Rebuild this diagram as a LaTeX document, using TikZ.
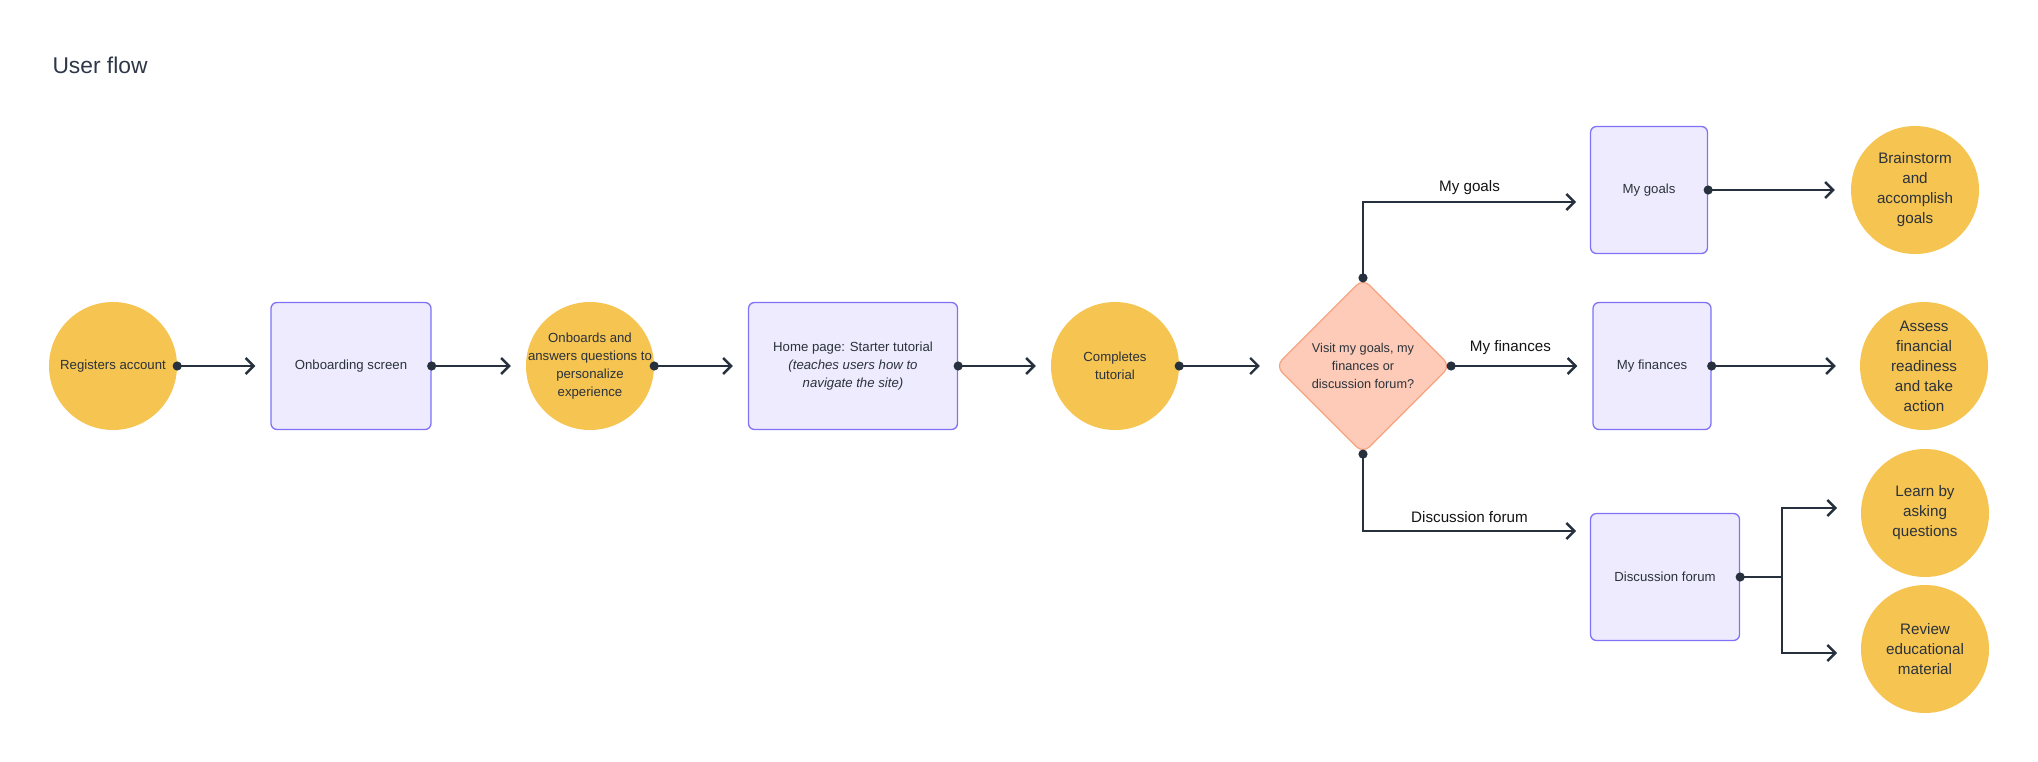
\documentclass[tikz,border=0pt]{standalone}
\usepackage{fontspec}
\setmainfont{Liberation Sans}
\usetikzlibrary{arrows.meta,shapes.geometric}

\definecolor{goldfill}{HTML}{F5C451}
\definecolor{boxfill}{HTML}{EDEBFD}
\definecolor{boxline}{HTML}{7F72F7}
\definecolor{decfill}{HTML}{FDCBB7}
\definecolor{decline}{HTML}{F6A27F}
\definecolor{flowline}{HTML}{26313D}
\definecolor{inktext}{HTML}{2B323B}
\definecolor{labelink}{HTML}{141414}
\definecolor{titleink}{HTML}{2D3748}

\tikzset{
  smalltext/.style={font=\fontsize{13.2}{18}\selectfont},
  bigtext/.style={font=\fontsize{15.2}{20}\selectfont},
  stepcircle/.style={circle, fill=goldfill, minimum size=128pt, inner sep=-20pt, align=center, text=inktext, smalltext},
  screenbox/.style={rectangle, rounded corners=6pt, draw=boxline, line width=1.3pt, fill=boxfill, minimum height=127pt, align=center, text=inktext, smalltext},
  choice/.style={diamond, aspect=1, draw=decline, line width=1.2pt, fill=decfill, minimum size=175pt, inner sep=0pt, rounded corners=9pt, align=center, text=inktext, font=\fontsize{12.7}{18}\selectfont},
  flow/.style={draw=flowline, line width=2.4pt, {Circle[length=9pt]}-{Straight Barb[length=8pt,width=16pt]}, shorten <=-4.5pt, shorten >=15pt},
  trunk/.style={draw=flowline, line width=2.4pt, {Circle[length=9pt]}-, shorten <=-4.5pt},
  fork/.style={draw=flowline, line width=2.4pt, -{Straight Barb[length=8pt,width=16pt]}},
  pathlabel/.style={bigtext, text=labelink},
  heading/.style={font=\fontsize{22.8}{27}\selectfont, text=titleink},
}

\begin{document}
\begin{tikzpicture}[x=1pt, y=-1pt]
    %--------------------%
    % Parameters
    %--------------------%
    \def\rowy{366}
    \def\topy{190}
    \def\rightx{1924}

    \useasboundingbox (0,0) rectangle (2038,761);

    \node[heading, anchor=west] (title) at (49,65) {User flow};

    %--------------------%
    % Main row
    %--------------------%
    \node[stepcircle] (register) at (113,\rowy) {Registers account};
    \node[screenbox, minimum width=160pt] (onboard) at (351,\rowy) {Onboarding screen};
    \node[stepcircle] (answers) at (590,\rowy) {Onboards and\\answers questions to\\personalize\\experience};
    \node[screenbox, minimum width=209pt] (home) at (853,\rowy) {Home page: Starter tutorial\\\textit{(teaches users how to}\\\textit{navigate the site)}};
    \node[stepcircle] (done) at (1115,\rowy) {Completes\\tutorial};
    \node[choice] (visit) at (1363,\rowy) {Visit my goals, my\\finances or\\discussion forum?};

    %--------------------%
    % Branches
    %--------------------%
    \node[screenbox, minimum width=117pt] (goals) at (1649,\topy) {My goals};
    \node[screenbox, minimum width=118pt] (finances) at (1652,\rowy) {My finances};
    \node[screenbox, minimum width=149pt] (forum) at (1665,577) {Discussion forum};

    \node[stepcircle, bigtext] (brainstorm) at (1915,\topy) {Brainstorm\\and\\accomplish\\goals};
    \node[stepcircle, bigtext] (assess) at (\rightx,\rowy) {Assess\\financial\\readiness\\and take\\action};
    \node[stepcircle, bigtext] (learn) at (1925,513) {Learn by\\asking\\questions};
    \node[stepcircle, bigtext] (review) at (1925,649) {Review\\educational\\material};

    \coordinate (goalsin) at (1576,202);
    \coordinate (forumin) at (1576,531);
    \coordinate (split) at (1782,577);
    \coordinate (learnin) at (1837,508);
    \coordinate (reviewin) at (1837,653);

    %--------------------%
    % Connections
    %--------------------%
    \draw[flow] (register) -- (onboard);
    \draw[flow] (onboard) -- (answers);
    \draw[flow] (answers) -- (home);
    \draw[flow] (home) -- (done);
    \draw[flow] (done) -- (visit);

    % Decision to screens
    \draw[flow, shorten >=0pt] (visit.north) |- node[pathlabel, pos=0.75, above=3pt] (lblgoals) {My goals} (goalsin);
    \draw[flow] (visit.east) -- node[pathlabel, pos=0.42, above=7pt] (lblfinances) {My finances} (finances);
    \draw[flow, shorten >=0pt] (visit.south) |- node[pathlabel, pos=0.75, above=4pt] (lblforum) {Discussion forum} (forumin);

    % Screens to outcomes
    \draw[flow, shorten >=16pt] (goals) -- (brainstorm);
    \draw[flow, shorten >=24pt] (finances) -- (assess);
    \draw[trunk] (forum.east) -- (split);
    \draw[fork] (split) |- (learnin);
    \draw[fork] (split) |- (reviewin);

\end{tikzpicture}
\end{document}
